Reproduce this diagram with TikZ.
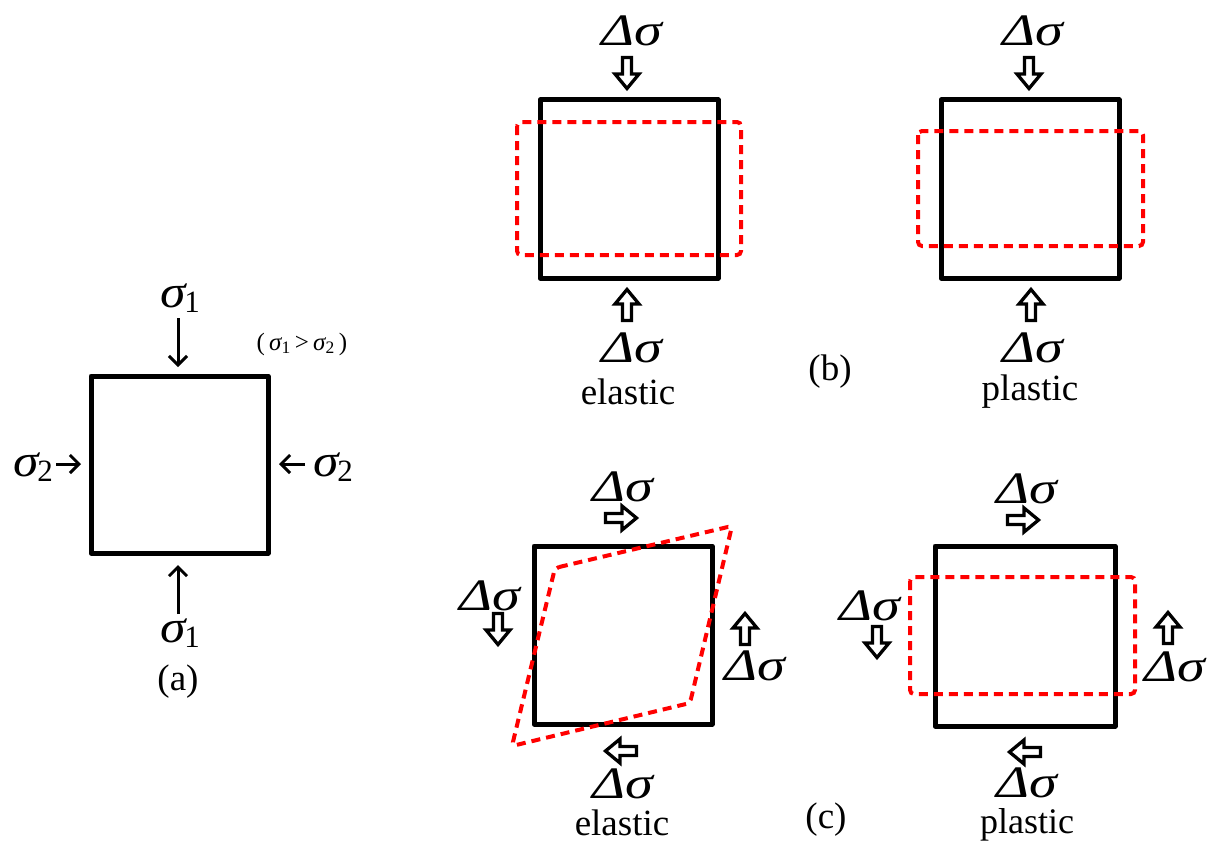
\documentclass[tikz,border=0pt]{standalone}
\usepackage{fontspec}
\setmainfont{Liberation Serif}
\usetikzlibrary{arrows.meta}
\newcommand{\Ds}{\scalebox{1.25}[1]{\fontsize{45}{48}\selectfont\itshape Δσ}}
\newcommand{\sigi}[1]{\scalebox{1.12}[1]{\fontsize{46}{48}\selectfont\itshape σ}\kern-1pt\raisebox{-5pt}{\fontsize{31}{32}\selectfont #1}}
\begin{document}
\begin{tikzpicture}[x=1pt,y=-1pt,
  box/.style={line width=5pt, line join=round},
  deform/.style={red, line width=4pt, dash pattern=on 9pt off 6pt, rounded corners=4pt},
  thinarrow/.style={line width=3pt, -{Straight Barb[length=9pt,width=18pt]}},
  lbl/.style={font=\fontsize{37}{40}\selectfont, inner sep=0pt},
  hol/.pic={\draw[line width=3.3pt, fill=white, line join=miter] (-15.5,-4.5) -- (1,-4.5) -- (1,-12) -- (15.5,0) -- (1,12) -- (1,4.5) -- (-15.5,4.5) -- cycle;}
]
\useasboundingbox (0,0) rectangle (1211,843);

% ---------- panel (a)
\draw[box] (91,376) rectangle (268,553);
\node[lbl] (s1t) at (180,298) {\sigi{1}};
\node[lbl] (s1b) at (180,633) {\sigi{1}};
\node[lbl] (s2l) at (33,467) {\sigi{2}};
\node[lbl] (s2r) at (333,467) {\sigi{2}};
\node[lbl] (la) at (178,682) {(a)};
\node[inner sep=0pt, font=\fontsize{25}{27}\selectfont] (cond) at (302,344) {(\,{\itshape σ}\textsubscript{1}\,>\,{\itshape σ}\textsubscript{2}\,)};
\coordinate (at1) at (178,318); \coordinate (at2) at (178,367);
\coordinate (ab1) at (178,614); \coordinate (ab2) at (178,565);
\coordinate (al1) at (56,464); \coordinate (al2) at (81,464);
\coordinate (ar1) at (305,464); \coordinate (ar2) at (279,464);
\draw[thinarrow] (at1) -- (at2);
\draw[thinarrow] (ab1) -- (ab2);
\draw[thinarrow] (al1) -- (al2);
\draw[thinarrow] (ar1) -- (ar2);

% ---------- panel (b) elastic
\draw[box] (540,100) rectangle (718,278);
\draw[deform] (517,122) rectangle (741,255);
\pic[rotate=-90] at (627,73) {hol};
\pic[rotate=90] at (627,305) {hol};
\node[lbl] (be1) at (632,31) {\Ds};
\node[lbl] (be2) at (632,348) {\Ds};
\node[lbl] (be3) at (628,392) {elastic};
\node[lbl] (lb) at (830,372) {(b)};

% ---------- panel (b) plastic
\draw[box] (941,100) rectangle (1119,278);
\draw[deform] (918,131) rectangle (1143,246);
\pic[rotate=-90] at (1029,73) {hol};
\pic[rotate=90] at (1031,305) {hol};
\node[lbl] (bp1) at (1033,31) {\Ds};
\node[lbl] (bp2) at (1033,348) {\Ds};
\node[lbl] (bp3) at (1030,392) {plastic};

% ---------- panel (c) elastic
\draw[box] (534,546) rectangle (712,724);
\draw[deform] (555,568) -- (732,526) -- (690,703) -- (512,746) -- cycle;
\pic at (621,518) {hol};
\pic[rotate=-90] at (498,629) {hol};
\pic[rotate=90] at (745,629) {hol};
\pic[rotate=180] at (621,751) {hol};
\node[lbl] (ce1) at (623,487) {\Ds};
\node[lbl] (ce2) at (490,596) {\Ds};
\node[lbl] (ce3) at (755,666) {\Ds};
\node[lbl] (ce4) at (623,784) {\Ds};
\node[lbl] (ce5) at (622,823) {elastic};
\node[lbl] (lc) at (826,820) {(c)};

% ---------- panel (c) plastic
\draw[box] (935,546) rectangle (1115,726);
\draw[deform] (910,577) rectangle (1135,694);
\pic at (1023,520) {hol};
\pic[rotate=-90] at (877,642) {hol};
\pic[rotate=90] at (1168,628) {hol};
\pic[rotate=180] at (1025,752) {hol};
\node[lbl] (cp1) at (1027,489) {\Ds};
\node[lbl] (cp2) at (870,606) {\Ds};
\node[lbl] (cp3) at (1175,667) {\Ds};
\node[lbl] (cp4) at (1027,783) {\Ds};
\node[lbl, font=\fontsize{36}{40}\selectfont] (cp5) at (1027,825) {plastic};
\end{tikzpicture}
\end{document}
